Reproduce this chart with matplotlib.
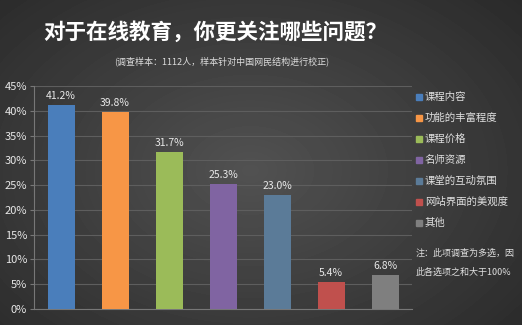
import numpy as np
import matplotlib.pyplot as plt
from matplotlib.patches import Rectangle

plt.rcParams['font.family'] = ['Noto Sans CJK SC', 'DejaVu Sans']

categories = ['课程内容', '功能的丰富程度', '课程价格', '名师资源', '课堂的互动氛围', '网站界面的美观度', '其他']
values = [41.2, 39.8, 31.7, 25.3, 23.0, 5.4, 6.8]
colors = ['#4a7ebb', '#f79646', '#9bbb59', '#8064a2', '#5b7b98', '#c0504d', '#7f7f7f']
yticks = [0, 5, 10, 15, 20, 25, 30, 35, 40, 45]

fig = plt.figure(figsize=(5.22, 3.25), dpi=100)

# dark radial background
bg = fig.add_axes([0, 0, 1, 1])
yy, xx = np.mgrid[0:325, 0:522]
r = np.sqrt(((xx - 250) / 330.0) ** 2 + ((yy - 170) / 230.0) ** 2)
shade = np.clip(0.32 - 0.14 * r, 0.15, 0.33)
bg.imshow(shade, cmap='gray', vmin=0, vmax=1, aspect='auto', extent=[0, 1, 0, 1])
bg.axis('off')

ax = fig.add_axes([34 / 522, 16 / 325, 378 / 522, 223 / 325])
ax.patch.set_alpha(0)
x = np.arange(len(values))
bars = ax.bar(x, values, width=0.5, color=colors, zorder=3)
for xi, v in zip(x, values):
    ax.text(xi, v + 0.8, f'{v:.1f}%', ha='center', va='bottom', color='#e8e8e8', fontsize=7.5)

ax.set_xlim(-0.5, 6.5)
ax.set_ylim(0, 45)
ax.set_yticks(yticks)
ax.set_yticklabels([f'{t}%' for t in yticks], color='#e8e8e8', fontsize=8)
ax.set_xticks([])
ax.grid(axis='y', color='#5e5e5e', linewidth=0.8, zorder=0)
for s in ['top', 'right']:
    ax.spines[s].set_visible(False)
ax.spines['left'].set_color('#777777')
ax.spines['bottom'].set_color('#777777')
ax.tick_params(axis='y', length=3, color='#777777', pad=2)

# legend as squares and labels
for i, (c, name) in enumerate(zip(colors, categories)):
    yp = 1 - (97 + 21 * i) / 325
    fig.patches.append(Rectangle((416 / 522, yp - 3 / 325), 6 / 522, 6 / 325,
                                 transform=fig.transFigure, color=c))
    fig.text(425 / 522, yp, name, color='#e0e0e0', fontsize=7.5, va='center')

fig.text(416 / 522, 1 - 253 / 325, '注：此项调查为多选，因', color='#e0e0e0',
         fontsize=6.5, style='italic', va='center')
fig.text(416 / 522, 1 - 272 / 325, '此各选项之和大于100%', color='#e0e0e0',
         fontsize=6.5, style='italic', va='center')

fig.text(215 / 522, 1 - 32 / 325, '对于在线教育，你更关注哪些问题？', color='white',
         fontsize=15.5, fontweight='bold', ha='center', va='center')
fig.text(222 / 522, 1 - 61 / 325, '(调查样本：1112人，样本针对中国网民结构进行校正)', color='#dddddd',
         fontsize=6.5, ha='center', va='center')

fig.savefig('out.png', dpi=100)
